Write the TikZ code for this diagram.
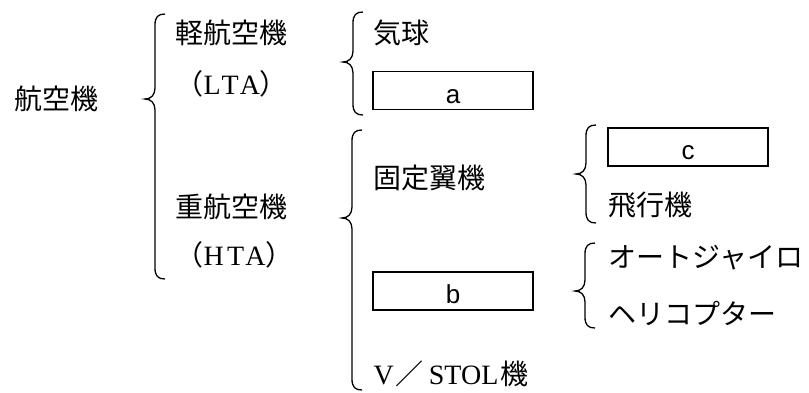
\documentclass[tikz,border=0pt]{standalone}
\usepackage{fontspec}
\setmainfont{Liberation Serif}
\newfontfamily\jpfont{Noto Sans CJK JP}
\newfontfamily\boxfont{Liberation Sans}
\newfontfamily\wideserif[LetterSpace=12]{Liberation Serif}
\newcommand{\zw}[1]{{\jpfont #1}}
% curly bracket: tip x, top y, tip y, bottom y
\newcommand{\kakko}[4]{%
	\draw ({#1+20},{#2}) .. controls ({#1+13},{#2}) and ({#1+10},{#2+3}) .. ({#1+10},{#2+11})
		-- ({#1+10},{#3-11}) .. controls ({#1+10},{#3-4}) and ({#1+6},{#3}) .. ({#1},{#3})
		.. controls ({#1+6},{#3}) and ({#1+10},{#3+4}) .. ({#1+10},{#3+11})
		-- ({#1+10},{#4-11}) .. controls ({#1+10},{#4-3}) and ({#1+13},{#4}) .. ({#1+20},{#4});}

\begin{document}
\begin{tikzpicture}[x=1pt,y=-1pt,line width=1.3pt,
		every node/.style={inner sep=0pt,font=\fontsize{28}{32}\selectfont},
		term/.style={anchor=west,font=\jpfont\fontsize{28}{32}\selectfont},
		latin/.style={anchor=west},
		blank/.style={draw,line width=1.5pt,minimum width=160pt,minimum height=38pt,text height=25pt,text depth=0pt,font=\boxfont\fontsize{26}{30}\selectfont}]
	\useasboundingbox (0,0) rectangle (809,392);
	\node[term] (root) at (14,99) {航空機};
	\node[term] (lta) at (175,33) {軽航空機};
	\node[latin] (ltaen) at (175,84) {\zw{（}{\wideserif LTA}\zw{）}};
	\node[term] (hta) at (175,207) {重航空機};
	\node[latin] (htaen) at (175,255) {\zw{（}{\wideserif HTA}\zw{）}};
	\node[term] (kikyu) at (373,33) {気球};
	\node[blank] (boxa) at (453,90.5) {a};
	\node[term] (kotei) at (373,178) {固定翼機};
	\node[blank] (boxb) at (453,291) {b};
	\node[latin] (vstol) at (373,374) {V\hspace{2pt}\zw{／}\hspace{5pt}STOL\hspace{2pt}\zw{機}};
	\node[blank] (boxc) at (688,147) {c};
	\node[term] (hikoki) at (608,205) {飛行機};
	\node[term] (auto) at (608,258) {オートジャイロ};
	\node[term] (heli) at (608,313) {ヘリコプター};
	\kakko{145}{14}{99}{279}
	\kakko{343}{12}{62}{115}
	\kakko{342}{130}{218}{390}
	\kakko{576}{125}{174}{223}
	\kakko{575}{243}{291}{328}
\end{tikzpicture}
\end{document}
